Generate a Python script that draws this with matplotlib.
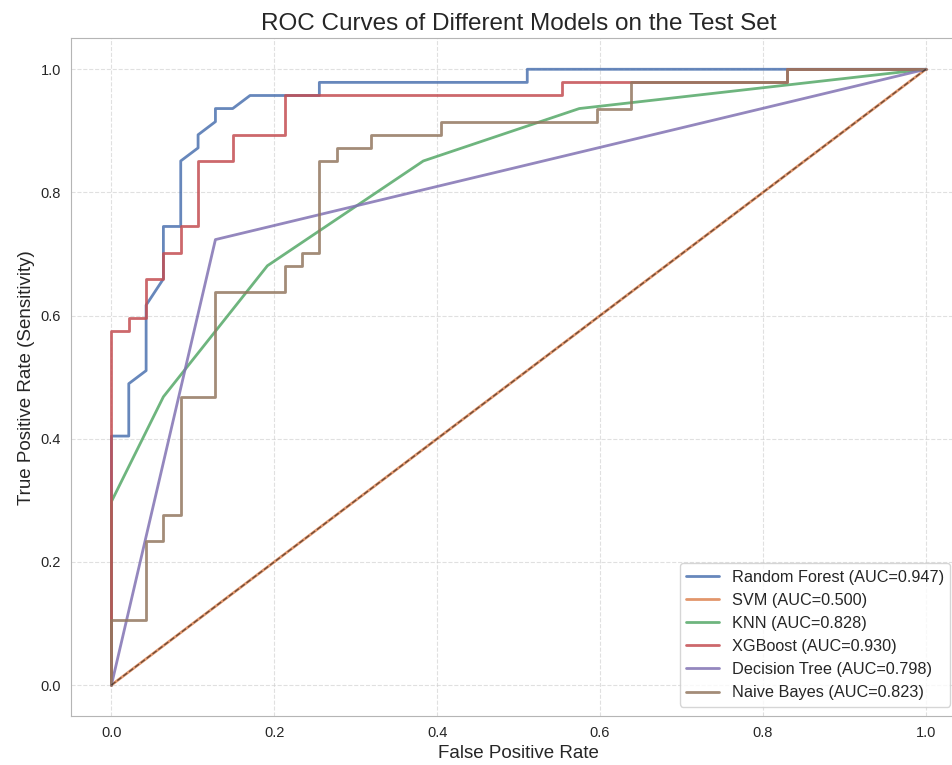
import numpy as np
import matplotlib
matplotlib.use('Agg')
import matplotlib.pyplot as plt
import seaborn as sns

sns.set_style('whitegrid')
plt.rcParams['font.family'] = ['Liberation Sans', 'DejaVu Sans']

# ROC points (test set)
rf_fpr = [0, 0, 0.0213, 0.0213, 0.0426, 0.0426, 0.0638, 0.0638, 0.0851, 0.0851, 0.1064, 0.1064,
          0.1277, 0.1277, 0.1489, 0.1702, 0.2553, 0.2553, 0.5106, 0.5106, 1.0]
rf_tpr = [0, 0.4043, 0.4043, 0.4894, 0.5106, 0.6170, 0.6596, 0.7447, 0.7447, 0.8511, 0.8723, 0.8936,
          0.9149, 0.9362, 0.9362, 0.9574, 0.9574, 0.9787, 0.9787, 1.0, 1.0]

svm_fpr = [0, 1.0]
svm_tpr = [0, 1.0]

knn_fpr = [0, 0, 0.0638, 0.1915, 0.3830, 0.5745, 1.0]
knn_tpr = [0, 0.2979, 0.4681, 0.6809, 0.8511, 0.9362, 1.0]

xgb_fpr = [0, 0, 0.0213, 0.0213, 0.0426, 0.0426, 0.0638, 0.0638, 0.0851, 0.0851, 0.1064, 0.1064,
           0.1489, 0.1489, 0.2128, 0.2128, 0.5532, 0.5532, 0.8298, 0.8298, 1.0]
xgb_tpr = [0, 0.5745, 0.5745, 0.5957, 0.5957, 0.6596, 0.6596, 0.7021, 0.7021, 0.7447, 0.7447, 0.8511,
           0.8511, 0.8936, 0.8936, 0.9574, 0.9574, 0.9787, 0.9787, 1.0, 1.0]

dt_fpr = [0, 0.1277, 1.0]
dt_tpr = [0, 0.7234, 1.0]

nb_fpr = [0, 0, 0.0426, 0.0426, 0.0638, 0.0638, 0.0851, 0.0851, 0.1277, 0.1277, 0.2128, 0.2128,
          0.2340, 0.2340, 0.2553, 0.2553, 0.2766, 0.2766, 0.3191, 0.3191, 0.4043, 0.4043,
          0.5957, 0.5957, 0.6383, 0.6383, 0.8298, 0.8298, 1.0]
nb_tpr = [0, 0.1064, 0.1064, 0.2340, 0.2340, 0.2766, 0.2766, 0.4681, 0.4681, 0.6383, 0.6383, 0.6809,
          0.6809, 0.7021, 0.7021, 0.8511, 0.8511, 0.8723, 0.8723, 0.8936, 0.8936, 0.9149,
          0.9149, 0.9362, 0.9362, 0.9787, 0.9787, 1.0, 1.0]

model_names = ['Random Forest', 'SVM', 'KNN', 'XGBoost', 'Decision Tree', 'Naive Bayes']
auc_values = [0.947, 0.500, 0.828, 0.930, 0.798, 0.823]
curves = [(rf_fpr, rf_tpr), (svm_fpr, svm_tpr), (knn_fpr, knn_tpr),
          (xgb_fpr, xgb_tpr), (dt_fpr, dt_tpr), (nb_fpr, nb_tpr)]

colors = sns.color_palette('deep', 6)

fig = plt.figure(figsize=(9.53, 7.65), dpi=100)
ax = fig.add_axes([0.0742, 0.0643, 0.940, 0.8854])

for (fpr, tpr), name, auc, c in zip(curves, model_names, auc_values, colors):
    ax.plot(fpr, tpr, color=c, lw=2, alpha=0.85, label=f'{name} (AUC={auc:.3f})')

ax.plot([0, 1], [0, 1], 'k--', lw=1, alpha=0.5)

ax.set_xlim(-0.05, 1.05)
ax.set_ylim(-0.05, 1.05)
ax.set_xticks([0, 0.2, 0.4, 0.6, 0.8, 1.0])
ax.set_yticks([0, 0.2, 0.4, 0.6, 0.8, 1.0])
ax.tick_params(labelsize=10.5)
ax.grid(True, linestyle='--', alpha=0.6)
for s in ax.spines.values():
    s.set_color('#b5b5b5')

ax.set_xlabel('False Positive Rate', fontsize=13.5)
ax.set_ylabel('True Positive Rate (Sensitivity)', fontsize=13.5)
ax.set_title('ROC Curves of Different Models on the Test Set', fontsize=17.5)
ax.legend(loc='lower right', bbox_to_anchor=(0.982, 0.0134), borderaxespad=0, fontsize=11.7)

fig.savefig('out.png', dpi=100)
